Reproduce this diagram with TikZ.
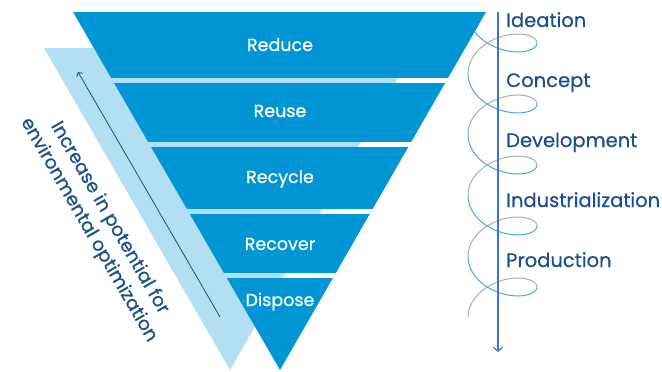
\documentclass[tikz,border=0pt]{standalone}
\usepackage{fontspec}
\setmainfont{Poppins}[FakeBold=0.6]
\usetikzlibrary{arrows.meta}

\definecolor{pyramidblue}{HTML}{0096D6}
\definecolor{bandlight}{HTML}{B3DFF2}
\definecolor{textblue}{HTML}{1B4E8E}
\definecolor{axisblue}{HTML}{3B78BE}
\definecolor{coilblue}{HTML}{3EA9E3}
\definecolor{coilgray}{HTML}{ABABAB}

\begin{document}
\begin{tikzpicture}[x=1pt,y=-1pt,
  bandlabel/.style={text=white,anchor=base,inner sep=0pt,font=\fontsize{17.5}{20}\selectfont},
  phase/.style={text=textblue,anchor=base west,inner sep=0pt,font=\fontsize{19.5}{22}\selectfont},
  coil/.style={line width=1pt},
  barb/.style={-{Straight Barb[length=4pt,width=9pt]}}]
\useasboundingbox (0,0) rectangle (662,372);

% pale band behind the pyramid
\fill[bandlight] (44,48) -- (415,48) -- (230,370) -- cycle;

% coil round the time axis, back half grey, front half blue
\foreach \n in {0,...,4}{
  \draw[coil,coilblue,shift={(0,61*\n)}] plot[domain=-pi:0,samples=40,variable=\t]
    ({502.5+34.5*cos(\t r)},{43+9.71*\t-22*sin(\t r)});
  \draw[coil,coilgray,shift={(0,61*\n)}] plot[domain=0:pi,samples=40,variable=\t]
    ({502.5+34.5*cos(\t r)},{43+9.71*\t-22*sin(\t r)});
}

% the five bands, cut out of one triangle
\begin{scope}
\clip (73,12) -- (486,12) -- (280,370) -- cycle;
\foreach \top/\bot in {12/78,83/142,147/209,214/273,278/372}
  \fill[pyramidblue] (0,\top) rectangle (662,\bot);
\end{scope}

\node[bandlabel] (reduce)  at (280,51)  {Reduce};
\node[bandlabel] (reuse)   at (280,117) {Reuse};
\node[bandlabel] (recycle) at (280,183) {Recycle};
\node[bandlabel] (recover) at (280,250) {Recover};
\node[bandlabel] (dispose) at (280,306) {Dispose};

% arrow up the pale band
\coordinate (potlow)  at (220,317);
\coordinate (pothigh) at (78,72);
\draw[textblue,line width=0.8pt,-{Straight Barb[length=3pt,width=7pt]}] (potlow) -- (pothigh);

\node[text=textblue,rotate=-60,align=center,inner sep=0pt,font=\fontsize{18.5}{24}\selectfont]
  (potential) at (99,224) {Increase in potential for\\environmental optimization};

% time axis with the development phases
\coordinate (axistop) at (498,12);
\coordinate (axisend) at (498,352);
\draw[axisblue,line width=1.2pt,barb] (axistop) -- (axisend);

\node[phase] (ideation)  at (506,27)  {Ideation};
\node[phase] (concept)   at (506,87)  {Concept};
\node[phase] (develop)   at (506,147) {Development};
\node[phase] (industry)  at (506,207) {Industrialization};
\node[phase] (produce)   at (506,267) {Production};
\end{tikzpicture}
\end{document}
